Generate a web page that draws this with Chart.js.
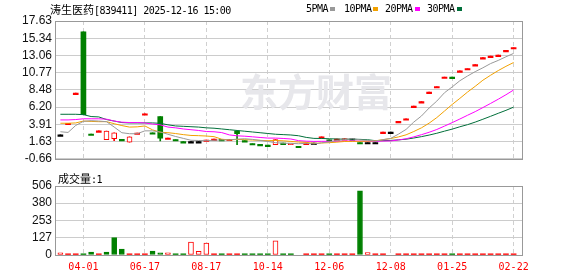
<!DOCTYPE html>
<html>
<head>
<meta charset="utf-8">
<script src="https://cdn.jsdelivr.net/npm/chart.js@4.4.1/dist/chart.umd.min.js"></script>
<style>
body { margin: 0; width: 578px; height: 276px; background: #fff; position: relative; overflow: hidden; }
canvas { position: absolute; left: 0; }
#kline { top: 0; }
#vol { top: 168px; }
.txt { position: absolute; font-family: "DejaVu Sans Mono", monospace; font-size: 10px; letter-spacing: -0.55px; line-height: 14px; color: #000; white-space: nowrap; }
.cjk { font-family: "Noto Sans CJK SC"; font-size: 11px; letter-spacing: 0; }
.sq { position: absolute; width: 5px; height: 4px; top: 7px; }
</style>
</head>
<body>
<canvas id="kline" width="578" height="170"></canvas>
<canvas id="vol" width="578" height="108"></canvas>
<div class="txt" style="left:50px;top:2px"><span class="cjk">涛生医药</span>[839411] 2025-12-16 15:00</div>
<div class="txt" style="left:306px;top:2px">5PMA</div><div class="sq" style="left:330px;background:#999999"></div>
<div class="txt" style="left:344px;top:2px">10PMA</div><div class="sq" style="left:373px;background:#f2a100"></div>
<div class="txt" style="left:385px;top:2px">20PMA</div><div class="sq" style="left:415px;background:#ff00ff"></div>
<div class="txt" style="left:427px;top:2px">30PMA</div><div class="sq" style="left:457px;background:#006f3a"></div>
<div class="txt" style="left:58px;top:171px"><span class="cjk">成交量</span>:1</div>
<script>
const opens = [2.51, 4.06, 8.06, 16.20, 2.63, 3.05, 1.88, 2.00, 1.92, 1.54, 2.76, 5.32, 2.80, 4.94, 2.10, 1.90, 1.63, 1.63, 1.63, 1.83,
    1.96, 1.92, 1.94, 3.01, 1.75, 1.37, 1.25, 1.16, 1.20, 1.41, 1.22, 1.00, 1.41, 1.41, 2.26, 1.85, 1.95, 2.00, 2.00, 1.50,
    1.50, 1.50, 2.88, 2.88, 4.31, 4.65, 6.33, 6.92, 8.18, 8.94, 10.20, 10.18, 11.00, 11.33, 11.84, 12.76, 12.97, 13.10, 13.73, 14.11];
const closes = [2.51, 4.06, 8.06, 5.20, 2.63, 3.05, 3.01, 2.80, 1.92, 2.26, 2.76, 5.32, 2.80, 2.08, 2.10, 1.90, 1.63, 1.63, 1.63, 1.83,
    1.96, 1.92, 1.94, 2.67, 1.75, 1.37, 1.25, 1.16, 1.88, 1.41, 1.27, 1.00, 1.41, 1.41, 2.26, 1.85, 1.95, 2.00, 2.00, 1.50,
    1.50, 1.50, 2.88, 2.88, 4.31, 4.65, 6.33, 6.92, 8.18, 8.94, 10.20, 10.18, 11.00, 11.33, 11.84, 12.76, 12.97, 13.10, 13.73, 14.11];
const highs = [2.51, 4.06, 8.06, 16.20, 2.63, 3.05, 3.01, 2.80, 1.92, 2.26, 2.76, 5.32, 2.80, 4.94, 2.10, 1.90, 1.63, 1.63, 1.63, 1.83,
    1.96, 1.92, 1.94, 3.01, 1.75, 1.37, 1.25, 1.16, 1.88, 1.41, 1.27, 1.00, 1.41, 1.41, 2.26, 1.85, 1.95, 2.00, 2.00, 1.50,
    1.50, 1.50, 2.88, 2.88, 4.31, 4.65, 6.33, 6.92, 8.18, 8.94, 10.20, 10.18, 11.00, 11.33, 11.84, 12.76, 12.97, 13.10, 13.73, 14.11];
const lows = [2.51, 4.06, 8.06, 5.20, 2.63, 3.05, 1.88, 1.75, 1.92, 1.54, 2.76, 5.32, 2.80, 1.70, 2.10, 1.90, 1.63, 1.63, 1.63, 1.83,
    1.96, 1.92, 1.94, 1.20, 1.75, 1.37, 1.25, 1.16, 1.20, 1.41, 1.22, 1.00, 1.41, 1.41, 2.26, 1.85, 1.95, 2.00, 2.00, 1.50,
    1.50, 1.50, 2.88, 2.88, 4.31, 4.65, 6.33, 6.92, 8.18, 8.94, 10.20, 10.18, 11.00, 11.33, 11.84, 12.76, 12.97, 13.10, 13.73, 14.11];
const volumes = [15, 4, 4, 4, 22, 4, 22, 127, 44, 4, 4, 4, 29, 15, 15, 4, 4, 95, 27, 88,
    4, 4, 4, 4, 4, 4, 4, 4, 103, 4, 4, 0, 4, 4, 4, 4, 4, 4, 4, 471,
    17, 4, 4, 0, 4, 4, 4, 4, 4, 4, 4, 4, 4, 4, 4, 4, 4, 4, 4, 4];

const ma5 = [2.93, 2.84, 3.77, 4.31, 4.40, 4.35, 4.27, 3.56, 2.80, 2.67, 2.67, 3.05, 3.05, 2.90, 2.60, 2.30, 2.05, 1.80, 1.77, 1.75,
    1.80, 1.85, 1.85, 1.95, 2.00, 1.92, 1.78, 1.64, 1.48, 1.41, 1.39, 1.34, 1.39, 1.30, 1.46, 1.58, 1.77, 1.89, 2.01, 1.86,
    1.79, 1.70, 1.88, 2.05, 2.61, 3.24, 4.21, 5.02, 6.08, 7.00, 8.11, 8.88, 9.70, 10.33, 10.91, 11.42, 11.98, 12.40, 12.88, 13.33];
const ma10 = [4.06, 4.06, 4.10, 4.35, 4.30, 4.27, 4.27, 4.00, 3.75, 3.55, 3.58, 3.70, 3.18, 2.86, 2.81, 2.69, 2.55, 2.44, 2.41, 2.36,
    2.28, 1.94, 1.85, 1.91, 1.88, 1.83, 1.79, 1.74, 1.77, 1.73, 1.65, 1.56, 1.52, 1.39, 1.44, 1.48, 1.55, 1.64, 1.65, 1.66,
    1.68, 1.73, 1.88, 2.03, 2.24, 2.52, 2.96, 3.45, 4.07, 4.81, 5.68, 6.55, 7.36, 8.20, 8.96, 9.77, 10.43, 11.05, 11.61, 12.12];
const ma20 = [4.50, 4.50, 4.55, 4.65, 4.65, 4.65, 4.60, 4.35, 4.20, 4.15, 4.15, 4.10, 3.95, 3.85, 3.55, 3.45, 3.30, 3.20, 3.10, 2.96,
    2.93, 2.82, 2.51, 2.39, 2.34, 2.26, 2.17, 2.09, 2.09, 2.04, 1.97, 1.75, 1.68, 1.65, 1.66, 1.66, 1.67, 1.69, 1.71, 1.69,
    1.67, 1.65, 1.70, 1.71, 1.84, 2.00, 2.25, 2.54, 2.86, 3.23, 3.68, 4.14, 4.62, 5.12, 5.60, 6.14, 6.69, 7.25, 7.84, 8.47];
const ma30 = [5.25, 5.25, 5.25, 5.20, 4.95, 4.90, 4.55, 4.35, 4.15, 4.10, 4.10, 4.10, 4.10, 4.05, 3.85, 3.70, 3.65, 3.60, 3.55, 3.45,
    3.40, 3.30, 3.20, 3.10, 3.00, 2.90, 2.80, 2.70, 2.60, 2.55, 2.50, 2.40, 2.18, 2.05, 2.04, 2.00, 1.97, 1.94, 1.94, 1.92,
    1.87, 1.75, 1.75, 1.78, 1.85, 1.94, 2.10, 2.28, 2.49, 2.73, 3.01, 3.28, 3.59, 3.87, 4.21, 4.59, 4.98, 5.38, 5.77, 6.20];

const tickIdx = [3, 11, 19, 27, 35, 43, 51, 59];
const tickLabels = ['04-01', '06-17', '08-17', '10-14', '12-06', '12-08', '01-25', '02-22'];
const priceTicks = [-0.66, 1.63, 3.91, 6.20, 8.48, 10.77, 13.06, 15.34, 17.63];
const volTicks = [0, 127, 253, 380, 506];

const RED = '#ff0000';
const GREEN = '#008000';
const BLACK = '#000000';

Chart.defaults.font.family = 'Liberation Sans';
Chart.defaults.animation = false;

const idx = closes.map((c, i) => i);

// doji colour follows the previous close, like the source chart
function candleColor(i) {
    if (closes[i] > opens[i]) return RED;
    if (closes[i] < opens[i]) return GREEN;
    const prev = i > 0 ? closes[i - 1] : closes[i];
    if (closes[i] > prev) return RED;
    if (closes[i] < prev) return GREEN;
    return BLACK;
}
const colors = idx.map(candleColor);
const hollow = idx.map(i => closes[i] > opens[i]);
const volDown = idx.map(i => i > 0 && closes[i] < closes[i - 1]);

const frame = {
    id: 'frame',
    afterDraw(chart) {
        const a = chart.chartArea;
        const c = chart.ctx;
        c.save();
        c.strokeStyle = '#999999';
        c.lineWidth = 1;
        c.strokeRect(Math.round(a.left) - 0.5, Math.round(a.top) + 0.5,
            Math.round(a.right - a.left) + 1, Math.round(a.bottom - a.top));
        c.restore();
    }
};

const watermark = {
    id: 'watermark',
    beforeDatasetsDraw(chart) {
        const c = chart.ctx;
        c.save();
        c.font = 'bold 38px "Noto Sans CJK SC"';
        c.fillStyle = '#e7e7eb';
        c.textAlign = 'center';
        c.textBaseline = 'middle';
        c.fillText('东方财富', 316, 92);
        c.restore();
    }
};

function xScale(showLabels) {
    return {
        type: 'linear',
        min: -0.57,
        max: 60.09,
        offset: false,
        afterBuildTicks: s => { s.ticks = tickIdx.map(v => ({ value: v })); },
        afterFit: s => { s.height = showLabels ? 21 : 0; },
        grid: { color: '#d0d0d0', drawTicks: false, offset: false },
        border: { display: false, dash: [4, 3] },
        ticks: {
            display: showLabels,
            autoSkip: false,
            maxRotation: 0,
            padding: 6,
            color: RED,
            font: { family: 'DejaVu Sans Mono', size: 10 },
            callback: v => tickLabels[tickIdx.indexOf(v)]
        }
    };
}

function yScale(min, max, values, fmt) {
    return {
        min: min,
        max: max,
        afterBuildTicks: s => { s.ticks = values.map(v => ({ value: v })); },
        afterFit: s => { s.width = 56; },
        grid: { color: '#cccccc', drawTicks: false },
        border: { display: false },
        ticks: { autoSkip: false, padding: 4, color: '#111111', font: { size: 12 }, callback: fmt }
    };
}

function maLine(values, color) {
    return {
        type: 'line',
        data: idx.map(i => ({ x: i, y: values[i] })),
        borderColor: color,
        borderWidth: 1,
        pointRadius: 0,
        tension: 0,
        order: 1
    };
}

new Chart(document.getElementById('kline').getContext('2d'), {
    type: 'bar',
    data: {
        datasets: [
            maLine(ma5, '#999999'),
            maLine(ma10, '#f2a100'),
            maLine(ma20, '#ff00ff'),
            maLine(ma30, '#006f3a'),
            {
                data: idx.map(i => ({ x: i, y: [opens[i], closes[i]] })),
                backgroundColor: idx.map(i => hollow[i] ? '#ffffff' : colors[i]),
                borderColor: colors,
                borderWidth: idx.map(i => hollow[i] ? 1 : 0),
                borderSkipped: false,
                barThickness: 5,
                minBarLength: 1.5,
                grouped: false,
                order: 2
            },
            {
                data: idx.map(i => ({ x: i, y: [lows[i], highs[i]] })),
                backgroundColor: colors,
                barThickness: 1,
                grouped: false,
                order: 3
            }
        ]
    },
    options: {
        responsive: false,
        layout: { padding: { left: 0, right: 56, top: 21, bottom: 4.5 } },
        plugins: { legend: { display: false }, tooltip: { enabled: false } },
        scales: {
            x: xScale(false),
            y: yScale(-0.66, 17.63, priceTicks, v => v.toFixed(2))
        }
    },
    plugins: [watermark, frame]
});

new Chart(document.getElementById('vol').getContext('2d'), {
    type: 'bar',
    data: {
        datasets: [{
            data: idx.map(i => ({ x: i, y: volumes[i] > 0 ? volumes[i] : null })),
            backgroundColor: idx.map(i => volDown[i] || volumes[i] < 10 ? (volDown[i] ? GREEN : RED) : '#ffffff'),
            borderColor: idx.map(i => volDown[i] ? GREEN : RED),
            borderWidth: idx.map(i => volumes[i] < 10 ? 0 : 1),
            borderSkipped: false,
            barThickness: 5,
            minBarLength: 1.2,
            grouped: false
        }]
    },
    options: {
        responsive: false,
        layout: { padding: { left: 0, right: 56, top: 18, bottom: 0 } },
        plugins: { legend: { display: false }, tooltip: { enabled: false } },
        scales: {
            x: xScale(true),
            y: yScale(0, 506, volTicks, v => String(v))
        }
    },
    plugins: [frame]
});
</script>
</body>
</html>
